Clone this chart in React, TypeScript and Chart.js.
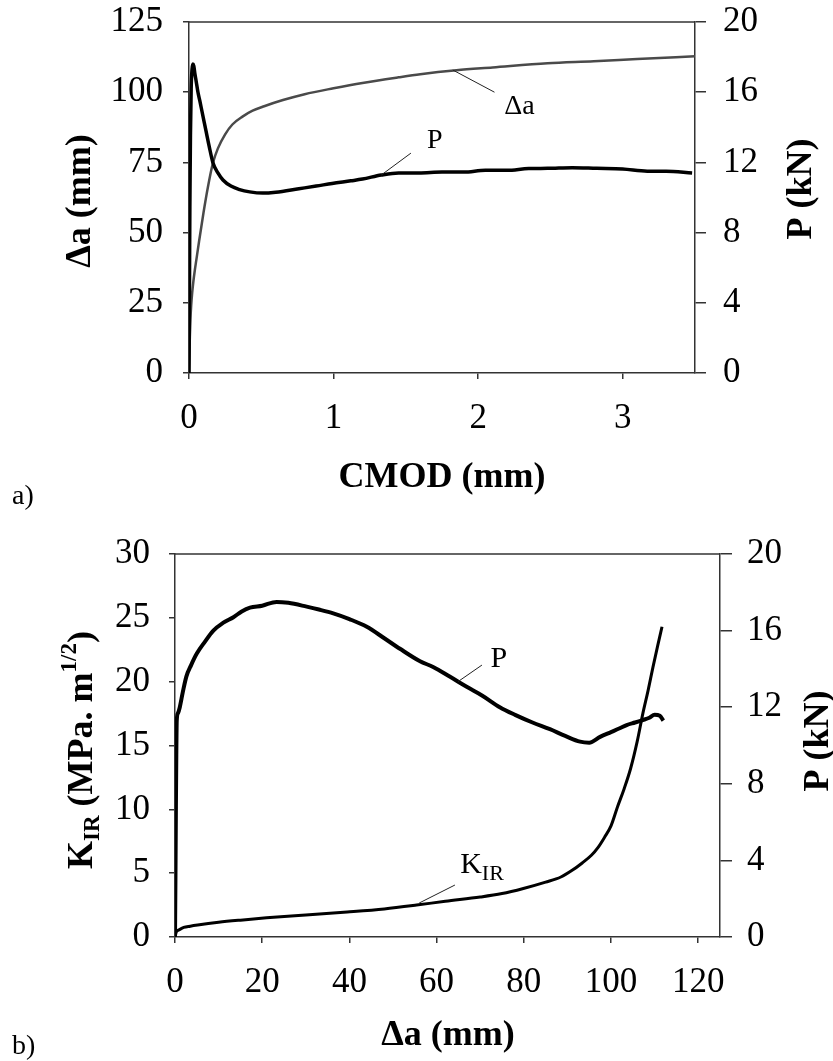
import { useEffect, useRef } from 'react';
import { Chart, registerables } from 'chart.js';

Chart.register(...registerables);

// ---------- Panel a) data: CMOD (mm) vs crack growth Δa (mm) and load P (kN)
const aDaCmod = [0, 0.003, 0.006, 0.01, 0.015, 0.022, 0.03, 0.04, 0.05, 0.07, 0.1, 0.13, 0.165, 0.2, 0.25, 0.3, 0.37, 0.44, 0.52, 0.65, 0.8, 1.0, 1.2, 1.45, 1.6, 1.85, 2.1, 2.48, 2.8, 3.1, 3.5];
const aDa = [0, 7, 13, 19, 24, 28.5, 32.5, 36.5, 40, 47, 57, 66, 74.7, 80, 85, 88.5, 91.3, 93.4, 95, 97.2, 99.3, 101.4, 103.3, 105.3, 106.4, 107.8, 108.8, 110.3, 111, 111.8, 112.8];
const aPCmod = [0, 0.003, 0.006, 0.01, 0.015, 0.021, 0.027, 0.033, 0.04, 0.05, 0.062, 0.075, 0.09, 0.105, 0.12, 0.14, 0.165, 0.2, 0.235, 0.29, 0.35, 0.42, 0.51, 0.6, 0.76, 0.88, 0.99, 1.12, 1.2, 1.33, 1.45, 1.59, 1.75, 1.9, 2.05, 2.2, 2.35, 2.48, 2.65, 2.82, 3.0, 3.17, 3.3, 3.48];
const aP = [0, 4.5, 9.5, 13.5, 16.2, 17.3, 17.6, 17.5, 17.1, 16.6, 16.0, 15.5, 14.9, 14.3, 13.7, 12.9, 12.0, 11.4, 11.0, 10.65, 10.45, 10.32, 10.25, 10.3, 10.5, 10.65, 10.8, 10.95, 11.05, 11.28, 11.4, 11.4, 11.45, 11.45, 11.55, 11.55, 11.65, 11.66, 11.7, 11.66, 11.62, 11.5, 11.5, 11.4];

// ---------- Panel b) data: Δa (mm) vs K_IR (MPa·m^1/2) and P (kN)
const bPDa = [0, 0.1, 0.2, 0.3, 0.4, 0.7, 1.1, 1.8, 2.6, 3.7, 5, 6.8, 8.8, 11, 13.4, 15.3, 17.2, 20, 23.3, 26, 30.2, 33, 36.3, 40, 44, 48, 51.6, 56.2, 59.2, 63, 67, 70.5, 74.5, 78, 82, 86, 89.5, 92.9, 95, 97.5, 100, 102, 103.6, 105.5, 107.3, 108.8, 110, 111.2, 112];
const bP = [0, 3, 6.5, 9.5, 11.3, 11.7, 12.0, 12.8, 13.6, 14.2, 14.8, 15.4, 16.0, 16.4, 16.7, 17.0, 17.2, 17.3, 17.5, 17.45, 17.25, 17.1, 16.9, 16.6, 16.2, 15.6, 15.05, 14.4, 14.1, 13.6, 13.05, 12.6, 12.0, 11.6, 11.2, 10.85, 10.5, 10.2, 10.15, 10.45, 10.7, 10.9, 11.07, 11.2, 11.33, 11.45, 11.6, 11.55, 11.3];
const bKDa = [0, 0.3, 0.9, 2, 3.5, 5.2, 10, 15, 21, 30, 39.5, 48, 55.4, 62, 70, 75, 79.9, 85, 88.5, 91, 93.4, 95.5, 97, 98.5, 100, 101.5, 103, 104.5, 106, 107.3, 108.5, 109.6, 110.7, 111.7];
const bK = [0, 0.4, 0.55, 0.75, 0.85, 0.94, 1.15, 1.32, 1.5, 1.73, 1.96, 2.2, 2.5, 2.8, 3.13, 3.4, 3.8, 4.3, 4.7, 5.2, 5.8, 6.4, 7.0, 7.8, 8.7, 10.2, 11.6, 13.2, 15.3, 17.5, 19.3, 21.1, 22.8, 24.3];

// ---------- Axis ticks / labels
const aXMax = 3.5;
const aYMax = 125;
const aYStep = 25;
const aY1Max = 20;
const aY1Step = 4;
const bXMax = 125;
const bXStep = 20;
const bYMax = 30;
const bYStep = 5;
const bY1Max = 20;
const bY1Step = 4;

const SERIF = "'Liberation Serif', 'Times New Roman', serif";

type Seg = { t: string; size: number; bold?: boolean; dy?: number };

function drawRich(ctx: CanvasRenderingContext2D, segs: Seg[], x: number, y: number, rot: number, align: 'center' | 'left') {
  ctx.save();
  ctx.translate(x, y);
  ctx.rotate(rot);
  ctx.fillStyle = '#000';
  ctx.textBaseline = 'alphabetic';
  ctx.textAlign = 'left';
  const widths = segs.map((s) => {
    ctx.font = `${s.bold ? 'bold ' : ''}${s.size}px ${SERIF}`;
    return ctx.measureText(s.t).width;
  });
  const total = widths.reduce((a, b) => a + b, 0);
  let cx = align === 'center' ? -total / 2 : 0;
  const base = segs[0].size * 0.33;
  segs.forEach((s, i) => {
    ctx.font = `${s.bold ? 'bold ' : ''}${s.size}px ${SERIF}`;
    ctx.fillText(s.t, cx, base + (s.dy || 0));
    cx += widths[i];
  });
  ctx.restore();
}

type Note = { from: [number, number]; to: [number, number]; label: Seg[]; at: [number, number]; align: 'center' | 'left' };
type Decor = {
  left: Seg[];
  leftPos: [number, number];
  right: Seg[];
  rightPos: [number, number];
  bottom: Seg[];
  bottomPos: [number, number];
  panel: string;
  panelPos: [number, number];
  notes: Note[];
};

const decorPlugin = {
  id: 'decor',
  afterDraw(chart: any, _args: any, opts: Decor) {
    const ctx: CanvasRenderingContext2D = chart.ctx;
    const { chartArea } = chart;
    const xs = chart.scales.x;
    const ys = chart.scales.y;
    // top frame line
    ctx.save();
    ctx.strokeStyle = '#333';
    ctx.lineWidth = 1.5;
    ctx.beginPath();
    ctx.moveTo(chartArea.left, chartArea.top);
    ctx.lineTo(chartArea.right, chartArea.top);
    ctx.stroke();
    ctx.restore();

    drawRich(ctx, opts.left, opts.leftPos[0], opts.leftPos[1], -Math.PI / 2, 'center');
    drawRich(ctx, opts.right, opts.rightPos[0], opts.rightPos[1], -Math.PI / 2, 'center');
    drawRich(ctx, opts.bottom, opts.bottomPos[0], opts.bottomPos[1], 0, 'center');
    drawRich(ctx, [{ t: opts.panel, size: 28 }], opts.panelPos[0], opts.panelPos[1], 0, 'left');

    opts.notes.forEach((n) => {
      ctx.save();
      ctx.strokeStyle = '#222';
      ctx.lineWidth = 1;
      ctx.beginPath();
      ctx.moveTo(xs.getPixelForValue(n.from[0]), ys.getPixelForValue(n.from[1]));
      ctx.lineTo(xs.getPixelForValue(n.to[0]), ys.getPixelForValue(n.to[1]));
      ctx.stroke();
      ctx.restore();
      drawRich(ctx, n.label, xs.getPixelForValue(n.at[0]), ys.getPixelForValue(n.at[1]), 0, n.align);
    });
  },
};

function pts(xs: number[], ys: number[]) {
  return xs.map((x, i) => ({ x, y: ys[i] }));
}

const tickFont = { family: SERIF, size: 35 };

function axis(min: number, max: number, step: number, position: string, tickLength: number, padding: number, size: number, horizontal: boolean) {
  return {
    type: 'linear',
    position,
    min,
    max,
    ticks: {
      stepSize: step,
      includeBounds: false,
      autoSkip: false,
      maxRotation: 0,
      font: tickFont,
      color: '#000',
      padding,
    },
    grid: {
      drawOnChartArea: false,
      drawTicks: true,
      tickLength,
      color: '#333',
      lineWidth: 1.5,
    },
    border: { display: true, color: '#333', width: 1.5 },
    afterFit: (s: any) => {
      if (horizontal) s.height = size;
      else s.width = size;
      s.paddingTop = 0;
      s.paddingBottom = 0;
      s.paddingLeft = 0;
      s.paddingRight = 0;
    },
  };
}

function useChart(ref: React.RefObject<HTMLCanvasElement | null>, build: () => any) {
  useEffect(() => {
    if (!ref.current) return;
    const chart = new Chart(ref.current, build());
    return () => chart.destroy();
  }, []);
}

function PanelA() {
  const ref = useRef<HTMLCanvasElement | null>(null);
  useChart(ref, () => ({
    type: 'line',
    data: {
      datasets: [
        {
          label: 'P',
          data: pts(aPCmod, aP),
          yAxisID: 'y1',
          borderColor: '#000',
          borderWidth: 3.5,
          pointRadius: 0,
          cubicInterpolationMode: 'monotone',
        },
        {
          label: 'Δa',
          data: pts(aDaCmod, aDa),
          yAxisID: 'y',
          borderColor: '#4a4a4a',
          borderWidth: 2.5,
          pointRadius: 0,
          cubicInterpolationMode: 'monotone',
        },
      ],
    },
    options: {
      responsive: false,
      animation: false,
      events: [],
      layout: { padding: { top: 22, left: 0, right: 0, bottom: 0 } },
      plugins: {
        legend: { display: false },
        tooltip: { enabled: false },
        decor: {
          left: [{ t: 'Δa (mm)', size: 36, bold: true }],
          leftPos: [78, 201],
          right: [{ t: 'P (kN)', size: 36, bold: true }],
          rightPos: [799, 189],
          bottom: [{ t: 'CMOD (mm)', size: 36, bold: true }],
          bottomPos: [442, 475],
          panel: 'a)',
          panelPos: [12, 495],
          notes: [
            { from: [1.825, 107.9], to: [2.113, 100], label: [{ t: 'Δa', size: 28 }], at: [2.285, 95.4], align: 'center' },
            { from: [1.33, 70.5], to: [1.535, 78.3], label: [{ t: 'P', size: 28 }], at: [1.70, 83.3], align: 'center' },
          ],
        },
      },
      scales: {
        x: axis(0, aXMax, 1, 'bottom', 6, 19, 147, true),
        y: axis(0, aYMax, aYStep, 'left', 6, 20, 189, false),
        y1: axis(0, aY1Max, aY1Step, 'right', 11, 17, 138, false),
      },
    },
    plugins: [decorPlugin],
  }));
  return <canvas ref={ref} width={833} height={520} style={{ display: 'block', width: 833, height: 520 }} />;
}

function PanelB() {
  const ref = useRef<HTMLCanvasElement | null>(null);
  useChart(ref, () => ({
    type: 'line',
    data: {
      datasets: [
        {
          label: 'P',
          data: pts(bPDa, bP),
          yAxisID: 'y1',
          borderColor: '#000',
          borderWidth: 4,
          pointRadius: 0,
          cubicInterpolationMode: 'monotone',
        },
        {
          label: 'KIR',
          data: pts(bKDa, bK),
          yAxisID: 'y',
          borderColor: '#000',
          borderWidth: 3,
          pointRadius: 0,
          cubicInterpolationMode: 'monotone',
        },
      ],
    },
    options: {
      responsive: false,
      animation: false,
      events: [],
      layout: { padding: { top: 34, left: 0, right: 0, bottom: 0 } },
      plugins: {
        legend: { display: false },
        tooltip: { enabled: false },
        decor: {
          left: [
            { t: 'K', size: 36, bold: true },
            { t: 'IR', size: 23, bold: true, dy: 7 },
            { t: ' (MPa. m', size: 36, bold: true },
            { t: '1/2', size: 23, bold: true, dy: -16 },
            { t: ')', size: 36, bold: true },
          ],
          leftPos: [80, 230],
          right: [{ t: 'P (kN)', size: 36, bold: true }],
          rightPos: [816, 221],
          bottom: [{ t: 'Δa (mm)', size: 36, bold: true }],
          bottomPos: [448, 513],
          panel: 'b)',
          panelPos: [12, 525],
          notes: [
            { from: [64.9, 20.0], to: [70.4, 21.3], label: [{ t: 'P', size: 30 }], at: [74.3, 21.9], align: 'center' },
            {
              from: [56, 2.66],
              to: [64.2, 4.07],
              label: [
                { t: 'K', size: 30 },
                { t: 'IR', size: 22, dy: 7 },
              ],
              at: [65.4, 5.8],
              align: 'left',
            },
          ],
        },
      },
      scales: {
        x: axis(0, bXMax, bXStep, 'bottom', 6, 19, 124, true),
        y: axis(0, bYMax, bYStep, 'left', 6, 19, 175, false),
        y1: axis(0, bY1Max, bY1Step, 'right', 12, 15, 113, false),
      },
    },
    plugins: [decorPlugin],
  }));
  return <canvas ref={ref} width={833} height={541} style={{ display: 'block', width: 833, height: 541 }} />;
}

export default function App() {
  return (
    <div style={{ position: 'absolute', left: 0, top: 0, width: 833, height: 1061, background: '#fff' }}>
      <PanelA />
      <PanelB />
    </div>
  );
}
